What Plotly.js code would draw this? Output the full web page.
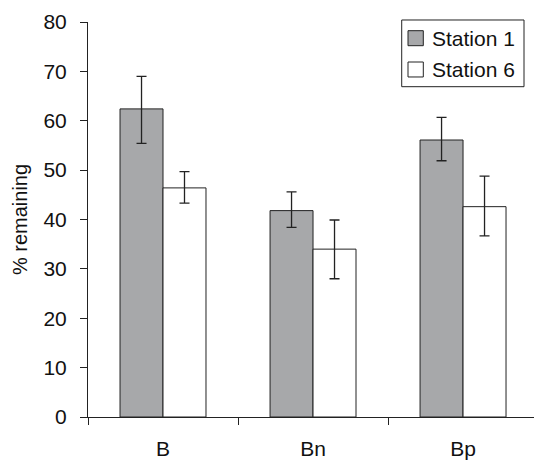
<!DOCTYPE html>
<html><head><meta charset="utf-8">
<script src="https://cdn.plot.ly/plotly-3.0.1.min.js"></script>
<style>html,body{margin:0;padding:0;background:#fff}</style>
</head><body>
<div id="chart" style="width:534px;height:461px"></div>
<script>
const categories = ["B", "Bn", "Bp"];
const station1 = [62.4, 41.8, 56.1];
const station1ErrPlus = [6.6, 3.8, 4.6];
const station1ErrMinus = [7.0, 3.4, 4.2];
const station6 = [46.4, 34.0, 42.6];
const station6ErrPlus = [3.3, 5.9, 6.2];
const station6ErrMinus = [3.1, 6.0, 5.9];
const seriesNames = ["Station 1", "Station 6"];
const seriesColors = ["#a7a8aa", "#ffffff"];
const yTicks = [0, 10, 20, 30, 40, 50, 60, 70, 80];

const errStyle = {color: "#222", thickness: 1.3, width: 5};
const traces = [
  {type: "bar", name: seriesNames[0], x: categories, y: station1,
   marker: {color: seriesColors[0], line: {color: "#222", width: 1}},
   error_y: Object.assign({type: "data", symmetric: false, array: station1ErrPlus, arrayminus: station1ErrMinus}, errStyle)},
  {type: "bar", name: seriesNames[1], x: categories, y: station6,
   marker: {color: seriesColors[1], line: {color: "#222", width: 1}},
   error_y: Object.assign({type: "data", symmetric: false, array: station6ErrPlus, arrayminus: station6ErrMinus}, errStyle)}
];

// custom legend (box, swatches, labels) in paper coordinates
const legendBox = {x0: 0.7034, x1: 0.9776, y0: 0.8362, y1: 1.0051};
const swatchX = [0.7175, 0.7518];
const swatchY = [[0.9400, 0.9780], [0.8608, 0.8987]];
const labelX = 0.7668;
const labelY = [0.9570, 0.8797];
const shapes = [
  {type: "rect", xref: "paper", yref: "paper", x0: legendBox.x0, x1: legendBox.x1, y0: legendBox.y0, y1: legendBox.y1,
   line: {color: "#222", width: 1}, fillcolor: "#fff", layer: "above"}
];
const annotations = [];
seriesNames.forEach((n, i) => {
  shapes.push({type: "rect", xref: "paper", yref: "paper", x0: swatchX[0], x1: swatchX[1], y0: swatchY[i][0], y1: swatchY[i][1],
    line: {color: "#222", width: 1}, fillcolor: seriesColors[i], layer: "above"});
  annotations.push({xref: "paper", yref: "paper", x: labelX, y: labelY[i], xanchor: "left", yanchor: "middle",
    text: n, showarrow: false, font: {size: 21, color: "#111"}});
});

const layout = {
  width: 534, height: 461,
  margin: {l: 88, r: 0, t: 22, b: 44},
  paper_bgcolor: "#fff", plot_bgcolor: "#fff",
  font: {family: "Liberation Sans, Arial, sans-serif", color: "#111", size: 21},
  barmode: "group", bargap: 0.427, bargroupgap: 0,
  showlegend: false,
  shapes: shapes, annotations: annotations,
  xaxis: {type: "category", range: [-0.5, 2.473], showline: true, linecolor: "#222", linewidth: 1,
    ticks: "outside", ticklen: 7, tickcolor: "#222", tickson: "boundaries",
    showgrid: false, zeroline: false, ticklabelstandoff: 13, tickfont: {size: 21}},
  yaxis: {range: [0, 80], tickvals: yTicks, showline: true, linecolor: "#222", linewidth: 1,
    ticks: "outside", ticklen: 7, tickcolor: "#222", showgrid: false, zeroline: false,
    tickfont: {size: 21}, ticklabelstandoff: 9,
    title: {text: "% remaining", font: {size: 20}, standoff: 10}}
};
Plotly.newPlot("chart", traces, layout, {displayModeBar: false, staticPlot: true});
</script>
</body></html>
